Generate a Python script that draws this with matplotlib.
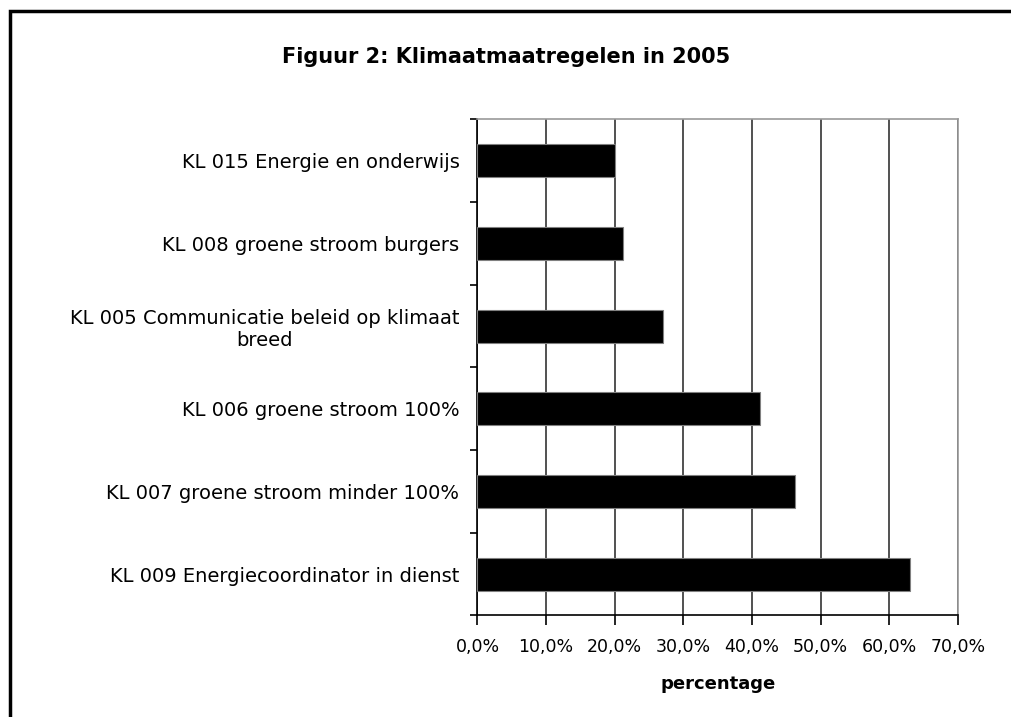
import matplotlib
matplotlib.use('Agg')
import matplotlib.pyplot as plt
import numpy as np
from matplotlib.patches import Rectangle
from matplotlib.ticker import FixedLocator, FuncFormatter

plt.rcParams['font.family'] = ['DejaVu Sans']

# data (top to bottom)
categories = [
    'KL 015 Energie en onderwijs',
    'KL 008 groene stroom burgers',
    'KL 005 Communicatie beleid op klimaat\nbreed',
    'KL 006 groene stroom 100%',
    'KL 007 groene stroom minder 100%',
    'KL 009 Energiecoordinator in dienst',
]
values = [20.1, 21.2, 27.1, 41.1, 46.3, 63.0]
x_ticks = [0, 10, 20, 30, 40, 50, 60, 70]

fig = plt.figure(figsize=(10.12, 7.17), dpi=100)

# outer frame of the chart object
fig.patches.append(Rectangle((10 / 1012, -0.05), 1.1, 1 - 11 / 717 + 0.05,
                             transform=fig.transFigure, fill=False,
                             edgecolor='black', linewidth=2.5))

ax = fig.add_axes([0.4718, 0.1416, 0.4748, 0.6918])

y = np.arange(len(categories))
ax.barh(y, values, height=0.4, color='black', edgecolor='#808080', linewidth=0.8, zorder=3)

ax.set_xlim(0, 70)
ax.set_ylim(len(categories) - 0.5, -0.5)

ax.xaxis.set_major_locator(FixedLocator(x_ticks))
ax.xaxis.set_major_formatter(FuncFormatter(lambda v, p: f'{v:.1f}%'.replace('.', ',')))
ax.grid(axis='x', color='#333333', linewidth=1.2, zorder=1)

# category boundaries as ticks, names as minor labels
ax.set_yticks(np.arange(-0.5, len(categories), 1.0))
ax.set_yticklabels([])
ax.set_yticks(y, minor=True)
ax.set_yticklabels(categories, minor=True, fontsize=14, multialignment='center')
ax.tick_params(axis='y', which='minor', length=0, pad=13)
ax.tick_params(axis='y', which='major', length=5, width=1.2, direction='out')
ax.tick_params(axis='x', length=7, width=1.2, direction='out', labelsize=12.5, pad=9)

for s in ['left', 'bottom']:
    ax.spines[s].set_color('black')
    ax.spines[s].set_linewidth(1.2)
for s in ['top', 'right']:
    ax.spines[s].set_color('#999999')
    ax.spines[s].set_linewidth(1.2)

ax.set_xlabel('percentage', fontsize=13, fontweight='bold', labelpad=14)
fig.text(0.500, 1 - 57 / 717, 'Figuur 2: Klimaatmaatregelen in 2005',
         ha='center', va='center', fontsize=15, fontweight='bold')

fig.savefig('out.png', dpi=100)
